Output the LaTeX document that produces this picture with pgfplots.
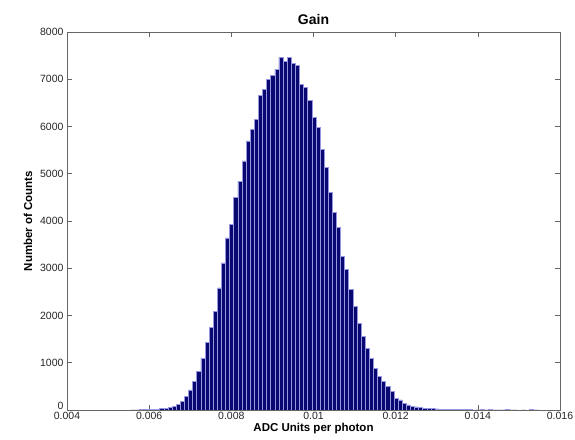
\documentclass[border=0pt]{standalone}
\usepackage{pgfplots}
\pgfplotsset{compat=1.18}
\usepackage{fontspec}
\setmainfont{Liberation Sans}
\definecolor{barfill}{RGB}{8,8,112}
\definecolor{baredge}{RGB}{150,150,225}
\begin{document}
\begin{tikzpicture}
\begin{axis}[
  scale only axis,
  width=493pt, height=378pt,
  xmin=0.004, xmax=0.016,
  ymin=0, ymax=8000,
  xtick={0.004,0.006,0.008,0.01,0.012,0.014,0.016},
  xticklabels={0.004,0.006,0.008,0.01,0.012,0.014,0.016},
  ytick={1000,2000,3000,4000,5000,6000,7000,8000},
  yticklabels={1000,2000,3000,4000,5000,6000,7000,8000},
  extra y ticks={0},
  extra y tick labels={0},
  extra y tick style={yticklabel style={yshift=4pt}},
  scaled x ticks=false, scaled y ticks=false,
  tick align=inside,
  major tick length=5pt,
  axis line style={black!60, line width=0.6pt},
  every tick/.style={black!60, line width=0.6pt},
  tick label style={font=\fontsize{10.5}{12}\selectfont, text=black!85},
  xticklabel style={yshift=1pt},
  title={Gain},
  title style={font=\bfseries\fontsize{14}{16}\selectfont, yshift=-2pt},
  xlabel={ADC Units per photon},
  ylabel={Number of Counts},
  xlabel style={font=\bfseries\fontsize{11.5}{13}\selectfont, yshift=4pt},
  ylabel style={font=\bfseries\fontsize{11.5}{13}\selectfont, yshift=1pt},
]
\addplot[ybar, bar width=0.0001, bar shift=0pt, fill=barfill, draw=baredge, line width=0.7pt]
coordinates {
(0.00561,2) (0.00571,3) (0.00581,5) (0.00591,7) (0.00601,10) (0.00611,14)
(0.00621,20) (0.00631,28) (0.00641,40) (0.00651,55) (0.00661,80) (0.00671,120)
(0.00681,176) (0.00691,283) (0.00701,424) (0.00711,601) (0.00721,813)
(0.00731,1097) (0.00741,1429) (0.00751,1754) (0.00761,2087) (0.00771,2582)
(0.00781,3112) (0.00791,3643) (0.00801,3926) (0.00811,4492) (0.00821,4845)
(0.00831,5270) (0.00841,5694) (0.00851,5942) (0.00861,6154) (0.00871,6649)
(0.00881,6790) (0.00891,6989) (0.00901,7088) (0.00911,7215) (0.00921,7462)
(0.00931,7370) (0.00941,7462) (0.00951,7342) (0.00961,7286) (0.00971,6897)
(0.00981,6826) (0.00991,6543) (0.01001,6189) (0.01011,5977) (0.01021,5517)
(0.01031,5128) (0.01041,4598) (0.01051,4173) (0.01061,3855) (0.01071,3254)
(0.01081,2971) (0.01091,2546) (0.01101,2193) (0.01111,1839) (0.01121,1556)
(0.01131,1309) (0.01141,1097) (0.01151,884) (0.01161,707) (0.01171,601)
(0.01181,495) (0.01191,389) (0.01201,247) (0.01211,212) (0.01221,141)
(0.01231,106) (0.01241,80) (0.01251,65) (0.01261,52) (0.01271,42)
(0.01281,34) (0.01291,27) (0.01301,22) (0.01311,18) (0.01321,20)
(0.01331,11) (0.01341,9) (0.01351,18) (0.01361,6) (0.01371,5)
(0.01381,15) (0.01391,3) (0.01401,3) (0.01411,12) (0.01421,2)
(0.01431,10) (0.01441,1) (0.01451,2) (0.01461,1) (0.01471,10)
(0.01481,1) (0.01491,1) (0.01511,1) (0.01531,10) (0.01541,1)
};
\end{axis}
\pgfresetboundingbox
\path ([shift={(-67pt,-30pt)}]current axis.south west) rectangle ([shift={(15pt,32pt)}]current axis.north east);
\end{tikzpicture}
\end{document}
